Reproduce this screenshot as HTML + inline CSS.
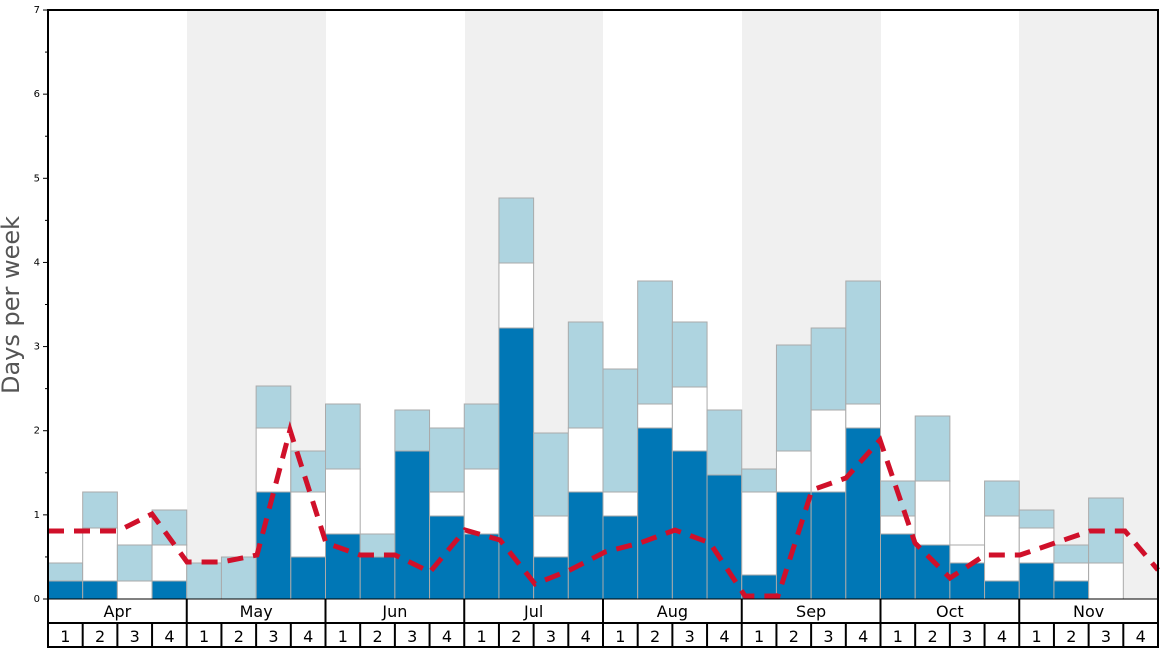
<!DOCTYPE html><html><head><style>body{margin:0;background:#fff}</style></head><body>
<svg width="1168" height="648" xmlns="http://www.w3.org/2000/svg" font-family="DejaVu Sans, Liberation Sans, sans-serif">
<g fill="#f0f0f0"><rect x="187" y="10" width="139" height="589"/><rect x="465" y="10" width="138" height="589"/><rect x="742" y="10" width="139" height="589"/><rect x="1019" y="10" width="139" height="589"/></g>
<g id="bars" stroke="#aaa" stroke-width="1"></g>
<polyline fill="none" stroke="#d0102a" stroke-width="5" stroke-dasharray="16,10" points="48,531 118,531 152,514 187,562 222,562 257,555 290,430 326,543 360,555 395,555 430,572 465,530 500,540 535,584 570,570 605,552 640,543 675,530 710,543 745,596 778,596 812,490 846,478 880,440 915,543 950,578 985,555 1020,555 1055,543 1090,531 1125,531 1158,570"/>
<rect x="48" y="10" width="1110" height="637" fill="none" stroke="#000" stroke-width="2"/>
<line x1="48" y1="599" x2="1158" y2="599" stroke="#000" stroke-width="1"/>
<line x1="48" y1="623" x2="1158" y2="623" stroke="#000" stroke-width="2"/>
<g id="axis" font-size="10"></g>
<text transform="translate(19,305) rotate(-90)" text-anchor="middle" font-size="24" fill="#555">Days per week</text>
</svg>
<script>
const W=1110/32,ns="http://www.w3.org/2000/svg";
const d=[[581,581,563],[581,528,492],[599,581,545],[581,545,510],[599,599,563],[599,599,557],[492,428,386],[557,492,451],[534,469,404],[557,557,534],[451,451,410],[516,492,428],[534,469,404],[328,263,198],[557,516,433],[492,428,322],[516,492,369],[428,404,281],[451,387,322],[475,475,410],[575,492,469],[492,451,345],[492,410,328],[428,404,281],[534,516,481],[545,481,416],[563,545,545],[581,516,481],[563,528,510],[581,563,545],[599,563,498],[599,599,599]];
const g=document.getElementById('bars'),a=document.getElementById('axis');
function r(x,y,w,h,f){if(h<=0)return;const e=document.createElementNS(ns,'rect');e.setAttribute('x',x);e.setAttribute('y',y);e.setAttribute('width',w);e.setAttribute('height',h);e.setAttribute('fill',f);g.appendChild(e);}
function t(x,y,s,sz,anc){const e=document.createElementNS(ns,'text');e.setAttribute('x',x);e.setAttribute('y',y);e.setAttribute('font-size',sz);e.setAttribute('text-anchor',anc||'middle');e.textContent=s;a.appendChild(e);}
function l(x1,y1,x2,y2,w){const e=document.createElementNS(ns,'line');e.setAttribute('x1',x1);e.setAttribute('y1',y1);e.setAttribute('x2',x2);e.setAttribute('y2',y2);e.setAttribute('stroke','#000');e.setAttribute('stroke-width',w||1);a.appendChild(e);}
d.forEach((v,i)=>{const x=48+i*W;r(x,v[0],W,599-v[0],'#0077b6');r(x,v[1],W,v[0]-v[1],'#fff');r(x,v[2],W,v[1]-v[2],'#aed4e0');});
for(let k=0;k<=7;k++){const y=599-k*84.14;t(40,y+3,k,10,'end');l(43,y,48,y);if(k<7)l(45,y-42.07,48,y-42.07);}
['Apr','May','Jun','Jul','Aug','Sep','Oct','Nov'].forEach((m,j)=>{const x=48+j*4*W;t(x+2*W,617,m,16);if(j>0)l(x,599,x,647,2);for(let w=0;w<4;w++){t(x+(w+.5)*W,642,w+1,16);if(w>0)l(x+w*W,623,x+w*W,647,2);}});
</script>
</body></html>
